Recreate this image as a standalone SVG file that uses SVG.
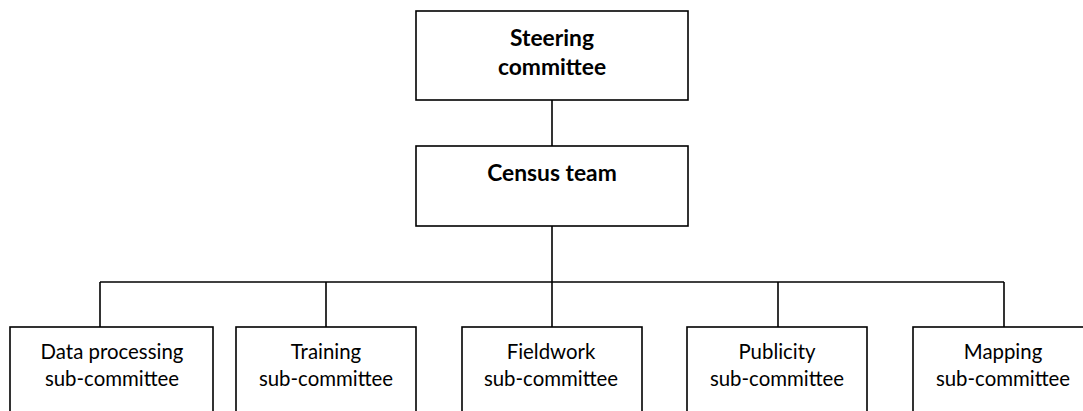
<svg xmlns="http://www.w3.org/2000/svg" width="1083" height="411" viewBox="0 0 1083 411">
<style>
.box{fill:#fff;stroke:#000;stroke-width:1.6}
.con{fill:none;stroke:#000;stroke-width:1.6}
text{font-family:Lato,"Liberation Sans",sans-serif;font-size:20.4px;fill:#000;text-anchor:middle}
.b{font-weight:bold;font-size:22.8px}
</style>
<rect width="1083" height="411" fill="#fff"/>
<g id="connectors">
<line class="con" x1="552" y1="100" x2="552" y2="146"/>
<line class="con" x1="552" y1="226" x2="552" y2="327"/>
<line class="con" x1="100" y1="282" x2="1004" y2="282"/>
<line class="con" x1="100" y1="282" x2="100" y2="327"/>
<line class="con" x1="326" y1="282" x2="326" y2="327"/>
<line class="con" x1="778" y1="282" x2="778" y2="327"/>
<line class="con" x1="1004" y1="282" x2="1004" y2="327"/>
</g>
<g id="steering">
<rect class="box" x="416" y="11" width="272" height="89"/>
<text class="b" x="552" y="46">Steering</text>
<text class="b" x="552" y="75">committee</text>
</g>
<g id="census">
<rect class="box" x="416" y="146" width="272" height="80"/>
<text class="b" x="552" y="181">Census team</text>
</g>
<g id="data">
<rect class="box" x="10" y="327" width="203" height="100"/>
<text x="112" y="359">Data processing</text>
<text x="112" y="386">sub-committee</text>
</g>
<g id="training">
<rect class="box" x="236" y="327" width="180" height="100"/>
<text x="326" y="359">Training</text>
<text x="326" y="386">sub-committee</text>
</g>
<g id="fieldwork">
<rect class="box" x="462" y="327" width="180" height="100"/>
<text x="551" y="359">Fieldwork</text>
<text x="551" y="386">sub-committee</text>
</g>
<g id="publicity">
<rect class="box" x="687" y="327" width="180" height="100"/>
<text x="777" y="359">Publicity</text>
<text x="777" y="386">sub-committee</text>
</g>
<g id="mapping">
<rect class="box" x="913" y="327" width="180" height="100"/>
<text x="1003" y="359">Mapping</text>
<text x="1003" y="386">sub-committee</text>
</g>
</svg>
